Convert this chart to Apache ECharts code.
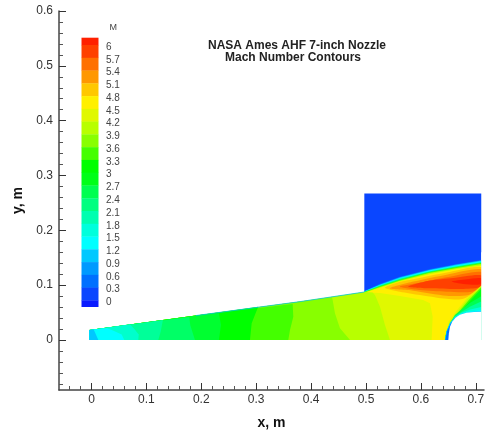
<!DOCTYPE html>
<html><head><meta charset="utf-8">
<style>html,body{margin:0;padding:0;background:#fff}#c{width:485px;height:432px;filter:blur(0.45px)}</style>
<script src="https://cdn.jsdelivr.net/npm/echarts@6/dist/echarts.min.js"></script>
</head><body><div id="c"></div>
<script>
// Axis ticks
const xMajor = [0, 0.1, 0.2, 0.3, 0.4, 0.5, 0.6, 0.7];
const xMinor = [-0.04,-0.02,0.02,0.04,0.06,0.08,0.12,0.14,0.16,0.18,0.22,0.24,0.26,0.28,0.32,0.34,0.36,0.38,0.42,0.44,0.46,0.48,0.52,0.54,0.56,0.58,0.62,0.64,0.66,0.68];
const yMajor = [0, 0.1, 0.2, 0.3, 0.4, 0.5, 0.6];
const yMinor = [-0.08,-0.06,-0.04,-0.02,0.02,0.04,0.06,0.08,0.12,0.14,0.16,0.18,0.22,0.24,0.26,0.28,0.32,0.34,0.36,0.38,0.42,0.44,0.46,0.48,0.52,0.54,0.56,0.58];

// Legend levels, top to bottom, and band colours (one more than levels)
const levelLabels = ['6','5.7','5.4','5.1','4.8','4.5','4.2','3.9','3.6','3.3','3','2.7','2.4','2.1','1.8','1.5','1.2','0.9','0.6','0.3','0'];
const bandColors = ['#ff2000','#ff4000','#ff7000','#ff9800','#ffc800','#fff000','#e0f800','#b8ff00','#88ff00','#44ff00','#00ff00','#00ff18','#00ff50','#00ff80','#00ffb0','#00ffdc','#00ffff','#00c8ff','#009aff','#0070ff','#0a46ff','#0a1aff'];

// Geometry (metres)
const wall = [[-0.004,0.018],[0.19,0.0445],[0.38,0.07],[0.497,0.0875]];
const plug = [[0.65,0],[0.651,0.012],[0.653,0.024],[0.657,0.0334],[0.663,0.0405],[0.671,0.046],[0.683,0.0497],[0.697,0.0512],[0.71,0.0517],[0.71,0]];
const outlet = [[0.71,-0.005],[0.71,0.16],[0.73,0.16],[0.73,-0.005]];
const ambientBox = [[0.497,0.0885],[0.497,0.267],[0.71,0.267],[0.71,0.12],[0.5,0.08]];

// Shear-layer upper contours at these stations
const shearX = [0.497,0.5255,0.562,0.6166,0.6657,0.71];
const shear0070 = [0.0895,0.1025,0.1155,0.1295,0.1387,0.146];
const shear00c8 = [0.089,0.1014,0.1143,0.1283,0.1375,0.1448];
const shear00ff = [0.0885,0.1004,0.1131,0.1271,0.1363,0.1436];
const shear80 = [0.088,0.0994,0.1115,0.1255,0.1347,0.142];
const shear44 = [0.0875,0.0982,0.11,0.124,0.1332,0.1403];
const shearB8 = [0.0868,0.0968,0.1085,0.1225,0.1315,0.1385];
const shearYellow = [0.086,0.0953,0.107,0.1205,0.1295,0.136];

// Nozzle contours, bottom to wall; the region to the left of each is one band
const isoYellow = [[0.6196,0],[0.6215,0.0425],[0.6166,0.0669],[0.604,0.073],[0.562,0.0803],[0.5255,0.0855],[0.505,0.0868],[0.497,0.0875]];
const isoE0 = [[0.5437,0],[0.5346,0.0274],[0.5255,0.0608],[0.5164,0.0821],[0.512,0.0865]];
const isoB8 = [[0.471,0],[0.4526,0.0213],[0.4435,0.0487],[0.4393,0.073],[0.438,0.0778]];
const iso88 = [[0.3585,0],[0.3616,0.018],[0.3676,0.0425],[0.3665,0.0657]];
const iso44 = [[0.2887,0],[0.2918,0.0305],[0.3,0.0517],[0.304,0.0608]];
const iso00 = [[0.232,0],[0.236,0.028],[0.232,0.049]];
const iso30 = [[0.1885,0],[0.18,0.027],[0.178,0.042]];
const iso66 = [[0.1217,0],[0.126,0.015],[0.13,0.0365]];
const iso99 = [[0.0853,0],[0.086,0.01],[0.078,0.02],[0.07,0.0285]];
const isoCC = [[0.0597,0],[0.055,0.01],[0.04,0.017],[0.028,0.022]];
const isoC8 = [[0.0124,0],[0.004,0.019]];

// Supersonic core tongue
const coreAmber = [[0.5346,0.0955],[0.5559,0.1046],[0.5862,0.1107],[0.6469,0.1229],[0.71,0.1326],[0.71,0.0991],[0.6773,0.075],[0.6469,0.075],[0.5984,0.0821],[0.5619,0.0882]];
const coreOrange = [[0.5437,0.0943],[0.5862,0.1065],[0.6469,0.1192],[0.71,0.129],[0.71,0.0991],[0.6864,0.0821],[0.6469,0.0809],[0.5862,0.09]];
const coreDeep = [[0.5619,0.0973],[0.5923,0.1034],[0.6469,0.1144],[0.71,0.1241],[0.71,0.0991],[0.6925,0.0882],[0.6469,0.0882],[0.5984,0.0912]];
const coreRed = [[0.5771,0.0973],[0.6165,0.1083],[0.659,0.1131],[0.71,0.118],[0.71,0.0991],[0.6985,0.0943],[0.6651,0.093],[0.6165,0.0943]];
const coreHot = [[0.656,0.1065],[0.6834,0.1107],[0.71,0.1125],[0.71,0.1016],[0.6773,0.1022]];

// Expansion fan off the plug shoulder
const fanE0 = [[0.71,0.0991],[0.6834,0.076],[0.665,0.0535],[0.651,0.0335],[0.6455,0.0125],[0.6435,0]];
const fanB8 = [[0.71,0.0975],[0.685,0.0745],[0.667,0.052],[0.6525,0.0325],[0.6458,0.0125],[0.6437,0]];
const fan44 = [[0.71,0.096],[0.687,0.0725],[0.669,0.051],[0.6535,0.032],[0.646,0.0125],[0.6438,0]];
const fan18 = [[0.71,0.093],[0.689,0.0705],[0.671,0.05],[0.6545,0.0325],[0.6462,0.0125],[0.6439,0]];
const fan50 = [[0.71,0.08],[0.69,0.068],[0.675,0.056],[0.662,0.0455],[0.654,0.032],[0.6464,0.0135],[0.644,0]];
const fan80 = [[0.71,0.07],[0.69,0.061],[0.675,0.052],[0.662,0.0435],[0.654,0.0315],[0.6466,0.0145],[0.6441,0]];
const fanDC = [[0.71,0.06],[0.69,0.0555],[0.675,0.05],[0.662,0.042],[0.654,0.0312],[0.6468,0.015],[0.6442,0]];
const fanFF = [[0.71,0.055],[0.69,0.052],[0.675,0.049],[0.662,0.0412],[0.6535,0.031],[0.647,0.0165],[0.6443,0]];
const fanC8 = [[0.71,0.053],[0.69,0.0512],[0.675,0.0482],[0.662,0.0408],[0.653,0.031],[0.6472,0.017],[0.6444,0]];
const fan70 = [[0.665,0.0425],[0.6545,0.03],[0.6475,0.016],[0.6445,0]];

const stations = ys => ys.map((y, i) => [shearX[i], y]);
const belowShear = ys => stations(ys).concat([[0.71,0],[0.497,0]]);
const leftOf = iso => {
  const topX = iso[iso.length - 1][0];
  return iso.concat(wall.filter(p => p[0] < topX).reverse()).concat([[-0.004,0]]);
};
const fanRegion = f => f.concat([[0.71,0]]);

const layers = [
  ['#0a46ff', ambientBox],
  ['#0070ff', belowShear(shear0070)],
  ['#00c8ff', belowShear(shear00c8)],
  ['#00ffff', belowShear(shear00ff)],
  ['#00ff80', belowShear(shear80)],
  ['#44ff00', belowShear(shear44)],
  ['#b8ff00', belowShear(shearB8)],
  ['#fff000', belowShear(shearYellow)],
  ['#e0f800', leftOf(isoYellow)],
  ['#b8ff00', leftOf(isoE0)],
  ['#88ff00', leftOf(isoB8)],
  ['#44ff00', leftOf(iso88)],
  ['#00ff00', leftOf(iso44)],
  ['#00ff30', leftOf(iso00)],
  ['#00ff66', leftOf(iso30)],
  ['#00ff99', leftOf(iso66)],
  ['#00ffcc', leftOf(iso99)],
  ['#00ffff', leftOf(isoCC)],
  ['#00c8ff', leftOf(isoC8)],
  ['#ffc800', coreAmber, 0.25],
  ['#ff9800', coreOrange, 0.25],
  ['#ff7000', coreDeep, 0.25],
  ['#ff4000', coreRed, 0.25],
  ['#ff2000', coreHot, 0.25],
  ['#e0f800', fanRegion(fanE0)],
  ['#b8ff00', fanRegion(fanB8)],
  ['#44ff00', fanRegion(fan44)],
  ['#00ff18', fanRegion(fan18)],
  ['#00ff50', fanRegion(fan50)],
  ['#00ff99', fanRegion(fan80)],
  ['#00ffdc', fanRegion(fanDC)],
  ['#00ffff', fanRegion(fanFF)],
  ['#00c8ff', fanRegion(fanC8)],
  ['#0070ff', fanRegion(fan70)],
  ['#ffffff', plug],
  ['#ffffff', outlet]
];

const legendTop = 37.7, legendStep = 12.77, thinTop = 7.3, thinBottom = 6.3;
const legendGraphics = [];
bandColors.forEach((c, i) => {
  let y, h;
  if (i === 0) { y = legendTop; h = thinTop; }
  else if (i === bandColors.length - 1) { y = legendTop + thinTop + legendStep * (i - 1); h = thinBottom; }
  else { y = legendTop + thinTop + legendStep * (i - 1); h = legendStep; }
  legendGraphics.push({type:'rect', shape:{x:81.5, y:y, width:17, height:h + 0.3}, style:{fill:c}, silent:true});
});
levelLabels.forEach((t, i) => {
  legendGraphics.push({type:'text', x:106, y:legendTop + thinTop + legendStep * i + 2,
    style:{text:t, fill:'#444', font:'10px "Liberation Sans"', textVerticalAlign:'middle'}, silent:true});
});
legendGraphics.push({type:'text', x:109.5, y:28, style:{text:'M', fill:'#444', font:'9px "Liberation Sans"', textVerticalAlign:'middle'}, silent:true});

const axisCommon = {
  axisLine:{show:true, onZero:false, lineStyle:{color:'#444', width:1.5}},
  splitLine:{show:false}
};
const labelStyle = {color:'#333', fontFamily:'Liberation Sans', fontSize:12};
const xRange = {min:-0.0592, max:0.715}, yRange = {min:-0.0912, max:0.6};

const chart = echarts.init(document.getElementById('c'), null, {renderer:'canvas'});
chart.setOption({
  animation:false,
  backgroundColor:'#fff',
  grid:{left:59, top:11, width:425, height:379, containLabel:false, outerBoundsMode:'none'},
  title:[
    {text:'NASA Ames AHF 7-inch Nozzle', left:208, top:40, textStyle:{fontFamily:'Liberation Sans', fontSize:12, fontWeight:'bold', color:'#222'}, padding:0},
    {text:'Mach Number Contours', left:225, top:52, textStyle:{fontFamily:'Liberation Sans', fontSize:12, fontWeight:'bold', color:'#222'}, padding:0}
  ],
  xAxis:[
    Object.assign({type:'value', position:'bottom', name:'x, m', nameLocation:'middle', nameGap:26,
      nameTextStyle:{fontFamily:'Liberation Sans', fontSize:14, fontWeight:'bold', color:'#111'},
      axisTick:{show:true, inside:true, length:7, customValues:xMajor, lineStyle:{color:'#333', width:1}},
      axisLabel:Object.assign({customValues:xMajor, margin:4}, labelStyle)}, axisCommon, xRange),
    Object.assign({type:'value', position:'bottom', axisLine:{show:false, onZero:false},
      axisTick:{show:true, inside:true, length:4, customValues:xMinor, lineStyle:{color:'#555', width:1}},
      axisLabel:{show:false}, splitLine:{show:false}}, xRange)
  ],
  yAxis:[
    Object.assign({type:'value', position:'left', name:'y, m', nameLocation:'middle', nameGap:34,
      nameTextStyle:{fontFamily:'Liberation Sans', fontSize:14, fontWeight:'bold', color:'#111'},
      axisTick:{show:true, inside:true, length:7, customValues:yMajor, lineStyle:{color:'#333', width:1}},
      axisLabel:Object.assign({customValues:yMajor, margin:6}, labelStyle)}, axisCommon, yRange),
    Object.assign({type:'value', position:'left', axisLine:{show:false, onZero:false},
      axisTick:{show:true, inside:true, length:4, customValues:yMinor, lineStyle:{color:'#555', width:1}},
      axisLabel:{show:false}, splitLine:{show:false}}, yRange)
  ],
  graphic:{elements:legendGraphics},
  series:[
    {type:'custom', xAxisIndex:0, yAxisIndex:0, silent:true, clip:false, z:2,
     data:layers.map((l, i) => [i]),
     encode:{x:[], y:[]},
     renderItem:(params, api) => {
       const l = layers[api.value(0)];
       return {type:'polygon', shape:{points:l[1].map(p => api.coord(p)), smooth:l[2] || 0},
         style:{fill:l[0]}};
     }},
    {type:'line', xAxisIndex:0, yAxisIndex:0, data:wall.slice(1), symbol:'none', silent:true, z:3,
     lineStyle:{color:'#00c8e0', width:0.8}}
  ]
});
</script></body></html>
